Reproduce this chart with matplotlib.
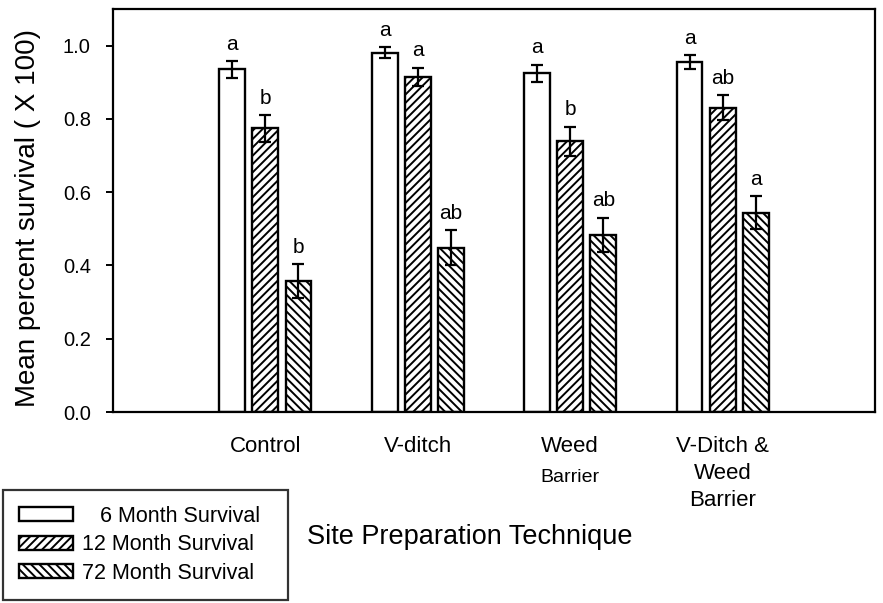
import numpy as np
import matplotlib
matplotlib.use("Agg")
import matplotlib.pyplot as plt

plt.rcParams['font.family'] = ['Liberation Sans', 'DejaVu Sans']
plt.rcParams['hatch.linewidth'] = 1.4

# data
sites = ["Control", "V-ditch", "Weed", "V-Ditch &\nWeed\nBarrier"]
series = ["6 Month Survival", "12 Month Survival", "72 Month Survival"]
surv_6 = [0.935, 0.981, 0.924, 0.955]
err_6 = [0.023, 0.014, 0.024, 0.019]
surv_12 = [0.774, 0.915, 0.739, 0.831]
err_12 = [0.037, 0.025, 0.040, 0.034]
surv_72 = [0.357, 0.449, 0.483, 0.544]
err_72 = [0.046, 0.047, 0.047, 0.045]
letters_6 = ["a", "a", "a", "a"]
letters_12 = ["b", "a", "b", "ab"]
letters_72 = ["b", "ab", "ab", "a"]

x = np.arange(1, len(sites) + 1)
width = 0.17
step = 0.217

fig = plt.figure(figsize=(8.83, 6.03), dpi=100)
ax = fig.add_axes([113/883, 1 - 412/603, 762/883, 403/603])

groups = [
    (surv_6, err_6, letters_6, "", -step, "   " + series[0]),
    (surv_12, err_12, letters_12, "////", 0, series[1]),
    (surv_72, err_72, letters_72, "\\\\\\\\", step, series[2]),
]
for vals, errs, lets, hatch, off, lab in groups:
    ax.bar(x + off, vals, width, color="white", edgecolor="black",
           linewidth=1.7, hatch=hatch, label=lab, zorder=2)
    ax.errorbar(x + off, vals, yerr=errs, fmt="none", ecolor="black",
                elinewidth=1.6, capsize=4.5, capthick=1.6, zorder=3)
    for xi, v, e, t in zip(x + off, vals, errs, lets):
        ax.text(xi, v + e + 0.02, t, ha="center", va="bottom", fontsize=15)

ax.set_xlim(0, 5)
ax.set_ylim(0, 1.1)
ax.set_yticks(np.arange(0, 1.01, 0.2))
ax.set_yticklabels(["%.1f" % v for v in np.arange(0, 1.01, 0.2)])
ax.set_xticks(x)
ax.set_xticklabels(sites, fontsize=16, linespacing=1.4)
ax.tick_params(axis="x", length=0, pad=17)
ax.tick_params(axis="y", length=5, width=1.4, pad=11, labelsize=14.5)
for s in ax.spines.values():
    s.set_linewidth(1.6)

ax.text(3, -0.18, "Barrier", ha="center", va="center", fontsize=14,
        transform=ax.transData)

fig.text(28/883, 1 - 218/603, "Mean percent survival ( X 100)", rotation=90,
         ha="center", va="center", fontsize=20)
fig.text(307/883, 1 - 537/603, "Site Preparation Technique", ha="left",
         va="center", fontsize=19.5)

leg = fig.legend(loc="lower left", bbox_to_anchor=(3/883, 1 - 600/603, 285/883, 0.1),
                 mode="expand", borderaxespad=0, fontsize=15.5, frameon=True,
                 fancybox=False, edgecolor="black", handlelength=2.5,
                 handleheight=0.6, handletextpad=0.42, labelspacing=0.35,
                 borderpad=0.75)
leg.get_frame().set_linewidth(1.6)

fig.savefig("out.png", dpi=100)
